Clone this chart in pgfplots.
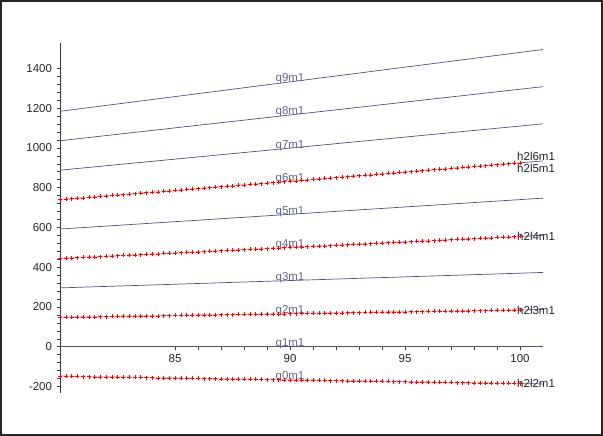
\documentclass[border=0pt]{standalone}
\usepackage{fontspec}
\setmainfont{Liberation Sans}
\usepackage{pgfplots}
\usepackage{pgfplotstable}
\pgfplotsset{compat=1.18}
\definecolor{qline}{RGB}{80,80,130}
\definecolor{qtext}{RGB}{100,100,140}
\definecolor{axisgray}{RGB}{60,60,60}
\tikzset{
  qlab/.style={anchor=base, inner sep=0pt, text=qtext, font=\fontsize{11.5bp}{13bp}\selectfont},
  hlab/.style={anchor=west, inner sep=0pt, text=black!85, font=\fontsize{11.5bp}{13bp}\selectfont}}

% x, then 1.85x, 5.55x, 9.25x, -1.85x (the four red series)
\pgfplotstableread{
x     a      b      c      d
80    148.0  444.0  740.0  -148.0
80.25 148.5  445.4  742.3  -148.5
80.5  148.9  446.8  744.6  -148.9
80.75 149.4  448.2  746.9  -149.4
81    149.9  449.6  749.3  -149.9
81.25 150.3  450.9  751.6  -150.3
81.5  150.8  452.3  753.9  -150.8
81.75 151.2  453.7  756.2  -151.2
82    151.7  455.1  758.5  -151.7
82.25 152.2  456.5  760.8  -152.2
82.5  152.6  457.9  763.1  -152.6
82.75 153.1  459.3  765.4  -153.1
83    153.6  460.7  767.8  -153.6
83.25 154.0  462.0  770.1  -154.0
83.5  154.5  463.4  772.4  -154.5
83.75 154.9  464.8  774.7  -154.9
84    155.4  466.2  777.0  -155.4
84.25 155.9  467.6  779.3  -155.9
84.5  156.3  469.0  781.6  -156.3
84.75 156.8  470.4  783.9  -156.8
85    157.3  471.8  786.3  -157.3
85.25 157.7  473.1  788.6  -157.7
85.5  158.2  474.5  790.9  -158.2
85.75 158.6  475.9  793.2  -158.6
86    159.1  477.3  795.5  -159.1
86.25 159.6  478.7  797.8  -159.6
86.5  160.0  480.1  800.1  -160.0
86.75 160.5  481.5  802.4  -160.5
87    161.0  482.9  804.8  -161.0
87.25 161.4  484.2  807.1  -161.4
87.5  161.9  485.6  809.4  -161.9
87.75 162.3  487.0  811.7  -162.3
88    162.8  488.4  814.0  -162.8
88.25 163.3  489.8  816.3  -163.3
88.5  163.7  491.2  818.6  -163.7
88.75 164.2  492.6  820.9  -164.2
89    164.7  494.0  823.3  -164.7
89.25 165.1  495.3  825.6  -165.1
89.5  165.6  496.7  827.9  -165.6
89.75 166.0  498.1  830.2  -166.0
90    166.5  499.5  832.5  -166.5
90.25 167.0  500.9  834.8  -167.0
90.5  167.4  502.3  837.1  -167.4
90.75 167.9  503.7  839.4  -167.9
91    168.4  505.1  841.8  -168.4
91.25 168.8  506.4  844.1  -168.8
91.5  169.3  507.8  846.4  -169.3
91.75 169.7  509.2  848.7  -169.7
92    170.2  510.6  851.0  -170.2
92.25 170.7  512.0  853.3  -170.7
92.5  171.1  513.4  855.6  -171.1
92.75 171.6  514.8  857.9  -171.6
93    172.1  516.2  860.3  -172.1
93.25 172.5  517.5  862.6  -172.5
93.5  173.0  518.9  864.9  -173.0
93.75 173.4  520.3  867.2  -173.4
94    173.9  521.7  869.5  -173.9
94.25 174.4  523.1  871.8  -174.4
94.5  174.8  524.5  874.1  -174.8
94.75 175.3  525.9  876.4  -175.3
95    175.8  527.3  878.8  -175.8
95.25 176.2  528.6  881.1  -176.2
95.5  176.7  530.0  883.4  -176.7
95.75 177.1  531.4  885.7  -177.1
96    177.6  532.8  888.0  -177.6
96.25 178.1  534.2  890.3  -178.1
96.5  178.5  535.6  892.6  -178.5
96.75 179.0  537.0  894.9  -179.0
97    179.5  538.4  897.3  -179.5
97.25 179.9  539.7  899.6  -179.9
97.5  180.4  541.1  901.9  -180.4
97.75 180.8  542.5  904.2  -180.8
98    181.3  543.9  906.5  -181.3
98.25 181.8  545.3  908.8  -181.8
98.5  182.2  546.7  911.1  -182.2
98.75 182.7  548.1  913.4  -182.7
99    183.2  549.5  915.8  -183.2
99.25 183.6  550.8  918.1  -183.6
99.5  184.1  552.2  920.4  -184.1
99.75 184.5  553.6  922.7  -184.5
100   185.0  555.0  925.0  -185.0
}\redtab

\begin{document}
\begin{tikzpicture}
  \draw[line width=2bp, black!85] (1bp,1bp) rectangle (602bp,435bp);
  \begin{axis}[at={(60bp,43.3bp)}, anchor=south west, scale only axis,
      width=483bp, height=349.4bp,
      xmin=80, xmax=101, ymin=-231, ymax=1526,
      axis x line=middle, axis y line=left,
      axis line style={-, axisgray, line width=0.8bp},
      xtick={85,90,95,100}, ytick={-200,0,200,400,600,800,1000,1200,1400},
      minor x tick num=4, minor y tick num=4,
      tick align=outside, major tick length=3.5bp, minor tick length=3bp,
      tick style={axisgray, line width=0.6bp},
      /pgf/number format/assume math mode=true,
      /pgf/number format/set thousands separator={},
      ticklabel style={font=\fontsize{11.5bp}{13bp}\selectfont, text=black!85},
      yticklabel style={xshift=-1bp},
      xticklabel style={yshift=-1bp},
      clip=false]
    % the q lines
    \addplot[qline, line width=0.7bp] coordinates {(80,-148) (101,-186.9)};
    \addplot[qline, line width=0.7bp] coordinates {(80,0) (101,0)};
    \addplot[qline, line width=0.7bp] coordinates {(80,148) (101,186.9)};
    \addplot[qline, line width=0.7bp] coordinates {(80,296) (101,373.7)};
    \addplot[qline, line width=0.7bp] coordinates {(80,444) (101,560.6)};
    \addplot[qline, line width=0.7bp] coordinates {(80,592) (101,747.4)};
    \addplot[qline, line width=0.7bp] coordinates {(80,740) (101,934.3)};
    \addplot[qline, line width=0.7bp] coordinates {(80,888) (101,1121.0)};
    \addplot[qline, line width=0.7bp] coordinates {(80,1036) (101,1308.0)};
    \addplot[qline, line width=0.7bp] coordinates {(80,1184) (101,1494.8)};
    % the red h2l series
    \pgfplotsinvokeforeach{a,b,c,d}{
      \addplot[red!30, line width=1.2bp, mark=+, mark size=2bp,
        mark options={red, line width=0.5bp}] table[x=x, y=#1] {\redtab};
    }
    % labels
    \node[qlab] at (axis cs:90,-166.5) {q0m1};
    \node[qlab] at (axis cs:90,0) {q1m1};
    \node[qlab] at (axis cs:90,166.5) {q2m1};
    \node[qlab] at (axis cs:90,333) {q3m1};
    \node[qlab] at (axis cs:90,499.5) {q4m1};
    \node[qlab] at (axis cs:90,666) {q5m1};
    \node[qlab] at (axis cs:90,832.5) {q6m1};
    \node[qlab] at (axis cs:90,999) {q7m1};
    \node[qlab] at (axis cs:90,1165.5) {q8m1};
    \node[qlab] at (axis cs:90,1332) {q9m1};
    \node[hlab] at (axis cs:99.87,959) {h2l6m1};
    \node[hlab] at (axis cs:99.87,899) {h2l5m1};
    \node[hlab] at (axis cs:99.87,555) {h2l4m1};
    \node[hlab] at (axis cs:99.87,185) {h2l3m1};
    \node[hlab] at (axis cs:99.87,-185) {h2l2m1};
  \end{axis}
\end{tikzpicture}
\end{document}
